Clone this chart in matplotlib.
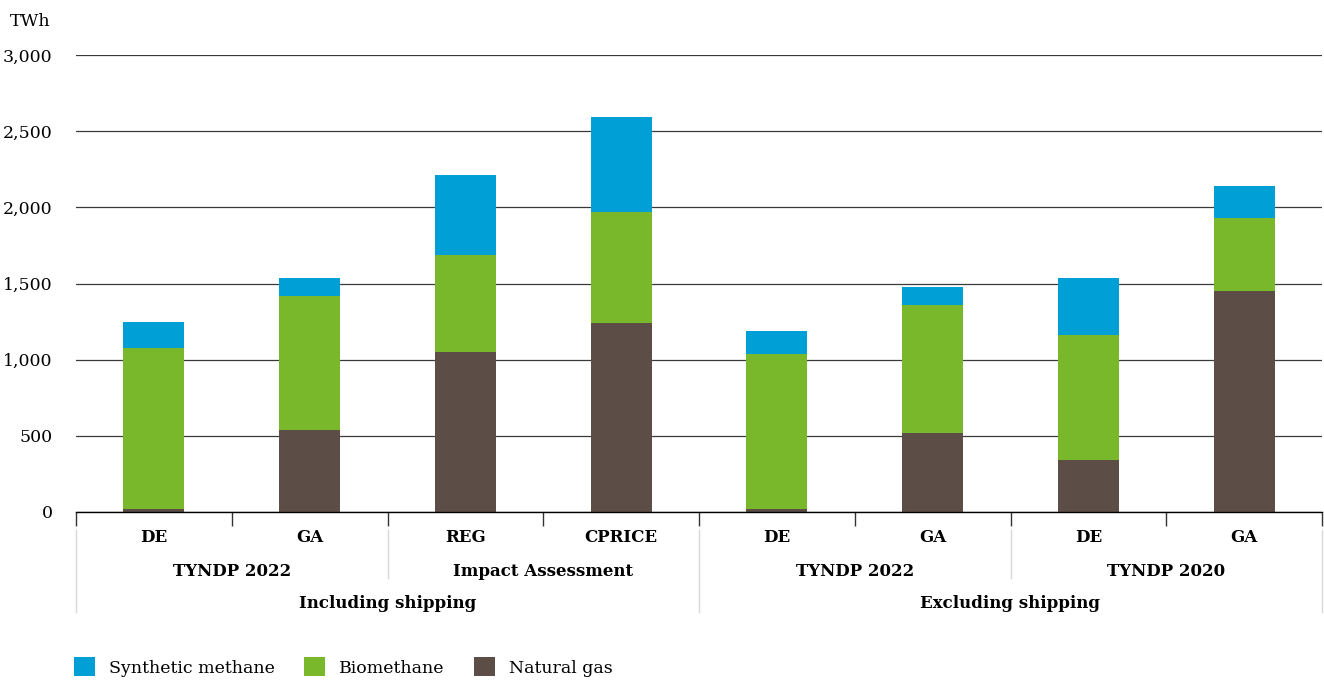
import matplotlib.pyplot as plt
import numpy as np

# values in TWh
scenarios = ["DE", "GA", "REG", "CPRICE", "DE", "GA", "DE", "GA"]
natural_gas = [20, 538, 1050, 1241, 20, 519, 341, 1451]
biomethane = [1057, 880, 637, 729, 1017, 840, 821, 479]
synthetic = [170, 118, 526, 623, 151, 118, 374, 210]

groups = ["TYNDP 2022", "Impact Assessment", "TYNDP 2022", "TYNDP 2020"]
supergroups = ["Including shipping", "Excluding shipping"]

c_syn = "#009fd6"
c_bio = "#78b82a"
c_gas = "#5c4e46"

plt.rcParams['font.family'] = ['DejaVu Serif']
W, H = 1324, 680
fig = plt.figure(figsize=(W / 100, H / 100), dpi=100)
ax = fig.add_axes([76 / W, 1 - 512 / H, (1322 - 76) / W, (512 - 55) / H])

x = np.arange(len(scenarios))
ng = np.array(natural_gas)
bm = np.array(biomethane)
sm = np.array(synthetic)
bw = 0.392
b1 = ax.bar(x, ng, bw, color=c_gas, label="Natural gas", zorder=3)
b2 = ax.bar(x, bm, bw, bottom=ng, color=c_bio, label="Biomethane", zorder=3)
b3 = ax.bar(x, sm, bw, bottom=ng + bm, color=c_syn, label="Synthetic methane", zorder=3)

ax.set_xlim(-0.5, len(scenarios) - 0.5)
ax.set_ylim(0, 3000)
ax.set_yticks(np.arange(0, 3001, 500))
ax.set_yticklabels([f"{v:,}" for v in range(0, 3001, 500)])
ax.tick_params(axis='y', length=0, pad=17, labelsize=12.5)
ax.grid(axis='y', color='#3a3a3a', linewidth=0.9, zorder=0)
for s in ["left", "right", "top"]:
    ax.spines[s].set_visible(False)
ax.spines["bottom"].set_color("black")
ax.spines["bottom"].set_linewidth(1.0)
ax.spines["bottom"].set_zorder(4)

# ticks at category boundaries
ax.set_xticks(np.arange(-0.5, len(scenarios)), minor=True)
ax.set_xticks([])
ax.tick_params(axis='x', which='minor', length=10, width=1, color='#333333')

tr = ax.get_xaxis_transform()
ah = 512 - 55
def yf(py):
    return -(py - 512) / ah

for i, s in enumerate(scenarios):
    ax.text(i, yf(537), s, transform=tr, ha='center', va='center',
            fontsize=12, fontweight='bold')
for g, lab in enumerate(groups):
    ax.text(2 * g + 0.5, yf(572), lab, transform=tr, ha='center', va='center',
            fontsize=12, fontweight='bold')
for g, lab in enumerate(supergroups):
    ax.text(4 * g + 1.5, yf(604), lab, transform=tr, ha='center', va='center',
            fontsize=12, fontweight='bold')

# separators below the axis
sep_col = "#d9d9d9"
for xb in [-0.5, 3.5, 7.5]:
    ax.plot([xb, xb], [yf(530), yf(612)], transform=tr, color=sep_col,
            lw=1, clip_on=False)
for xb in [1.5, 5.5]:
    ax.plot([xb, xb], [yf(530), yf(578)], transform=tr, color=sep_col,
            lw=1, clip_on=False)

fig.text(10 / W, 1 - 22 / H, "TWh", ha='left', va='center', fontsize=12.5)

fig.legend(handles=[b3, b2, b1], loc='center left',
           bbox_to_anchor=(67 / W, 1 - 667 / H), ncol=3, frameon=False,
           fontsize=12.5, handlelength=1.2, handleheight=1.25,
           handletextpad=0.8, columnspacing=1.7, borderaxespad=0)

fig.savefig("out.png", dpi=100)
